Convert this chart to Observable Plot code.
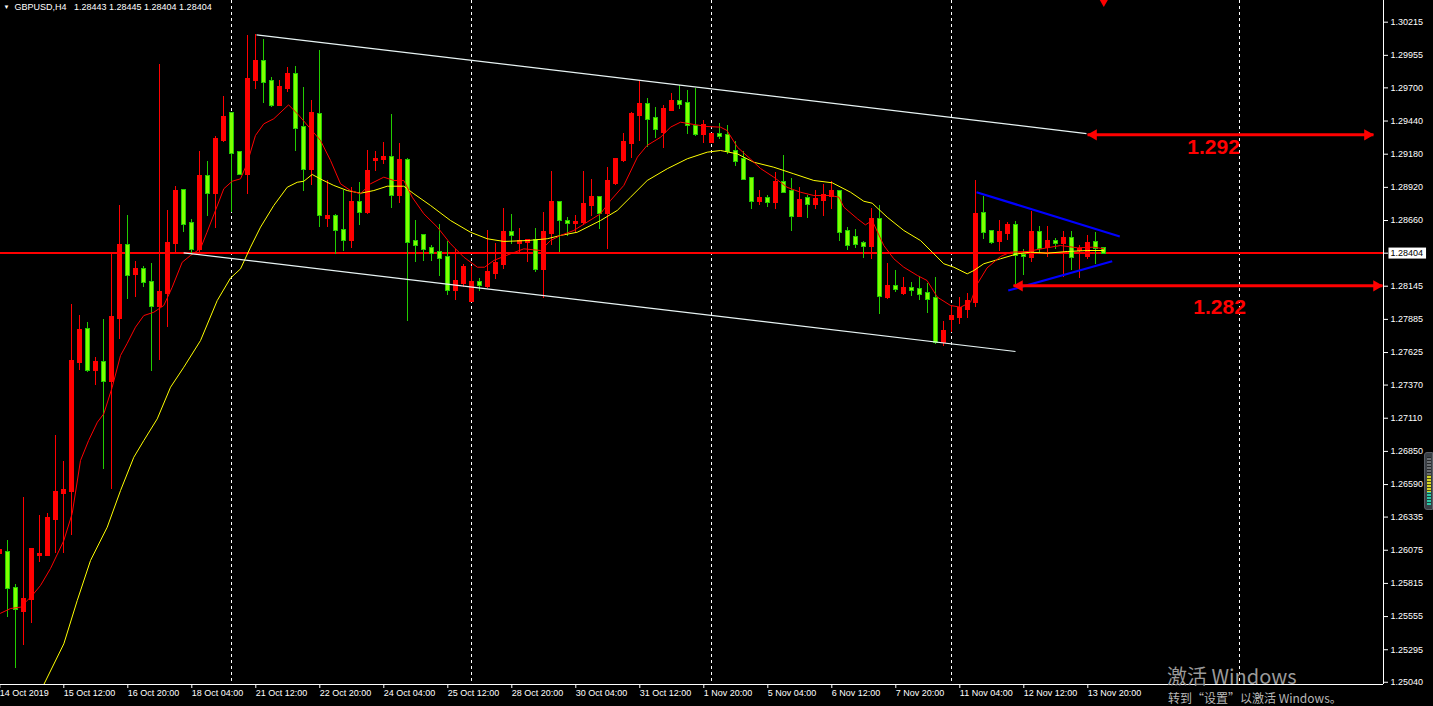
<!DOCTYPE html>
<html>
<head>
<meta charset="utf-8">
<script src="https://cdn.jsdelivr.net/npm/d3@7"></script>
<script src="https://cdn.jsdelivr.net/npm/@observablehq/plot@0.6"></script>
<style>
  html, body { margin:0; padding:0; background:#000; overflow:hidden; }
  #wrap { position:relative; width:1433px; height:706px; background:#000; }
  #wrap svg { display:block; }
  .wm1 { position:absolute; left:1167px; top:666px; font-size:20px; line-height:20px; font-family:"Noto Sans CJK SC","Noto Sans",sans-serif; color:#9a9a9a; white-space:nowrap; }
  .wm2 { position:absolute; left:1168px; top:692px; font-size:12px; line-height:12px; font-family:"Noto Sans CJK SC","Noto Sans",sans-serif; color:#b8b8b8; white-space:nowrap; }
  .gauge { position:absolute; left:1424px; top:452px; width:9px; height:58px; border-radius:3px 0 0 3px; background:#3a3f45; box-sizing:border-box; border:1px solid #5a5f66; }
  .gauge .in { position:absolute; left:2px; right:1px; top:4px; bottom:4px;
    background: repeating-linear-gradient(to bottom, rgba(0,0,0,0.65) 0 1px, transparent 1px 3px),
                linear-gradient(to bottom, #6a6e72 0 38%, #d6d628 38% 72%, #2cc7a6 72% 100%); }
</style>
</head>
<body>
<div id="wrap"></div>
<script>
// ---------- data ----------
const symbolTitle = "GBPUSD,H4\u00a0\u00a0 1.28443 1.28445 1.28404 1.28404";
const firstBar = -1;
const opens = [1.26050,1.26060,1.25773,1.25597,1.25687,1.26030,1.26036,1.26318,1.26522,1.26538,
1.27549,1.27803,1.27487,1.27545,1.27400,1.27894,1.28464,1.28239,1.28274,1.28172,
1.27988,1.28090,1.28480,1.28895,1.28637,1.28433,1.29005,1.28872,1.29287,1.29499,
1.29191,1.29023,1.29760,1.29907,1.29750,1.29562,1.29697,1.29805,1.29389,1.29062,
1.29489,1.28678,1.28692,1.28582,1.28506,1.28801,1.28725,1.29127,1.29136,1.29154,
1.28859,1.29131,1.28496,1.28543,1.28441,1.28409,1.28370,1.28114,1.28164,1.28028,
1.28172,1.28143,1.28245,1.28315,1.28566,1.28482,1.28488,1.28503,1.28276,1.28558,
1.28801,1.28652,1.28637,1.28645,1.28778,1.28841,1.28715,1.28950,1.29131,1.29264,
1.29483,1.29570,1.29460,1.29350,1.29523,1.29593,1.29577,1.29397,1.29334,1.29272,
1.29334,1.29327,1.29201,1.29138,1.28990,1.28809,1.28833,1.28801,1.28958,1.28888,
1.28692,1.28833,1.28786,1.28817,1.28848,1.28888,1.28574,1.28527,1.28480,1.28456,
1.28668,1.28057,1.28143,1.28088,1.28127,1.28119,1.28088,1.28049,1.27704,1.27884,
1.27900,1.27962,1.28017,1.28715,1.28574,1.28496,1.28558,1.28621,1.28386,1.28370,
1.28566,1.28449,1.28496,1.28480,1.28519,1.28425,1.28378,1.28488,1.28443];
const highs = [1.26089,1.26151,1.25806,1.26486,1.26079,1.26345,1.26361,1.26975,1.26771,1.28002,
1.27915,1.27861,1.27586,1.27884,1.28394,1.28778,1.28699,1.28336,1.28297,1.28323,
1.29883,1.28739,1.28927,1.28903,1.28668,1.29201,1.29123,1.29319,1.29632,1.29499,
1.29193,1.30111,1.30118,1.30079,1.29779,1.29758,1.29860,1.29868,1.29703,1.29601,
1.29993,1.28974,1.28707,1.28895,1.28919,1.28958,1.29211,1.29204,1.29272,1.29491,
1.29264,1.29146,1.28660,1.28543,1.28464,1.28629,1.28496,1.28433,1.28315,1.28300,
1.28206,1.28582,1.28480,1.28754,1.28707,1.28597,1.28503,1.28597,1.28723,1.29044,
1.28801,1.28684,1.28699,1.29044,1.28982,1.28841,1.29076,1.29146,1.29342,1.29507,
1.29750,1.29617,1.29546,1.29562,1.29656,1.29719,1.29679,1.29695,1.29444,1.29342,
1.29421,1.29405,1.29280,1.29201,1.28997,1.28895,1.28856,1.29037,1.29170,1.28990,
1.28919,1.28856,1.28895,1.28942,1.28966,1.28888,1.28605,1.28590,1.28496,1.28754,
1.28778,1.28323,1.28268,1.28213,1.28174,1.28221,1.28166,1.28213,1.27868,1.27986,
1.28057,1.28088,1.28974,1.28848,1.28582,1.28660,1.28645,1.28652,1.28433,1.28731,
1.28613,1.28613,1.28519,1.28574,1.28574,1.28464,1.28543,1.28566,1.28445];
const lows = [1.26026,1.25550,1.25150,1.25328,1.25498,1.25981,1.26036,1.26047,1.26052,1.26191,
1.27484,1.27471,1.27369,1.26710,1.26549,1.27730,1.28043,1.28059,1.28133,1.27479,
1.27563,1.27824,1.28409,1.28566,1.28394,1.28386,1.28694,1.28600,1.29274,1.28721,
1.29021,1.28866,1.29687,1.29577,1.29548,1.29556,1.29666,1.29204,1.28890,1.28937,
1.28608,1.28608,1.28396,1.28420,1.28443,1.28623,1.28710,1.29047,1.29102,1.28757,
1.28796,1.27871,1.28333,1.28341,1.28341,1.28224,1.28075,1.28035,1.28137,1.28025,
1.28100,1.28127,1.28198,1.28276,1.28472,1.28394,1.28331,1.28253,1.28049,1.28464,
1.28409,1.28535,1.28566,1.28621,1.28692,1.28590,1.28433,1.28935,1.29115,1.29146,
1.29280,1.29233,1.29303,1.29225,1.29515,1.29530,1.29334,1.29319,1.29264,1.29272,
1.29295,1.29178,1.29084,1.28982,1.28746,1.28778,1.28762,1.28746,1.28872,1.28574,
1.28692,1.28676,1.28746,1.28692,1.28746,1.28496,1.28425,1.28441,1.28362,1.28354,
1.27923,1.28041,1.28096,1.28072,1.28064,1.28033,1.27931,1.27688,1.27672,1.27782,
1.27845,1.27892,1.27978,1.28511,1.28472,1.28417,1.28503,1.28158,1.28229,1.28331,
1.28409,1.28370,1.28433,1.28213,1.28268,1.28206,1.28354,1.28315,1.28404];
const closes = [1.26073,1.25773,1.25608,1.25687,1.26079,1.26042,1.26324,1.26528,1.26543,1.27555,
1.27798,1.27487,1.27545,1.27400,1.27897,1.28464,1.28231,1.28276,1.28172,1.27988,
1.28096,1.28478,1.28888,1.28631,1.28433,1.29005,1.28874,1.29295,1.29468,1.29189,
1.29023,1.29766,1.29907,1.29746,1.29558,1.29703,1.29805,1.29384,1.29062,1.29499,
1.28702,1.28692,1.28584,1.28506,1.28801,1.28725,1.29044,1.29138,1.29154,1.28859,
1.29131,1.28490,1.28467,1.28435,1.28404,1.28365,1.28114,1.28182,1.28292,1.28174,
1.28147,1.28253,1.28323,1.28566,1.28545,1.28496,1.28501,1.28276,1.28566,1.28801,
1.28660,1.28637,1.28645,1.28786,1.28841,1.28715,1.28966,1.29138,1.29272,1.29491,
1.29570,1.29452,1.29374,1.29530,1.29593,1.29570,1.29405,1.29334,1.29405,1.29334,
1.29319,1.29201,1.29123,1.28982,1.28809,1.28833,1.28801,1.28958,1.28880,1.28692,
1.28817,1.28786,1.28825,1.28856,1.28888,1.28566,1.28464,1.28472,1.28456,1.28668,
1.28064,1.28143,1.28119,1.28127,1.28111,1.28080,1.28041,1.27704,1.27790,1.27908,
1.27970,1.28025,1.28707,1.28566,1.28488,1.28566,1.28621,1.28386,1.28378,1.28566,
1.28441,1.28496,1.28480,1.28519,1.28370,1.28433,1.28480,1.28441,1.28404];

// fast moving average (red): bar position, price
const fastBar = [-0.91,0.34,1.59,3.05,4.09,5.34,7.0,8.05,9.09,10.1,11.2,12.0,13.05,14.09,14.9,15.96,17.0,18.25,19.5,20.55,21.8,22.84,24.09,24.9,25.96,27.0,28.05,29.09,29.9,30.96,32.0,33.25,35.1,36.4,37.84,39.09,40.34,41.59,42.84,44.09,45.34,47.0,48.25,49.5,50.55,52.0,53.7,55.34,57.0,58.7,59.6,60.75,62.84,64.5,66.59,67.84,69.09,70.75,72.4,74.09,75.34,77.0,78.7,79.9,81.6,82.84,84.09,85.75,87.4,89.09,89.9,91.2,92.8,94.09,95.75,97.4,99.09,100.75,102.84,103.9,104.5,106.2,107.2,108.05,109.5,110.75,112.0,113.7,114.9,116.2,117.84,119.09,120.34,121.2,122.4,124.09,125.34,127.4,129.9,131.6,133.7,135.75,137.0];
const fastVal = [1.25581,1.25618,1.25629,1.25720,1.25799,1.25932,1.26151,1.26363,1.26779,1.26935,1.27079,1.27145,1.27353,1.27602,1.27694,1.27824,1.27915,1.27941,1.27994,1.28137,1.28333,1.28386,1.28441,1.28568,1.28739,1.28909,1.28968,1.28987,1.29105,1.29327,1.29418,1.29458,1.29567,1.29483,1.29379,1.29287,1.29131,1.28948,1.28895,1.28870,1.28948,1.29000,1.28974,1.28974,1.28843,1.28713,1.28608,1.28478,1.28373,1.28294,1.28294,1.28347,1.28399,1.28438,1.28425,1.28503,1.28543,1.28582,1.28647,1.28713,1.28817,1.28935,1.29157,1.29248,1.29313,1.29392,1.29431,1.29413,1.29397,1.29392,1.29366,1.29235,1.29144,1.29068,1.29000,1.28921,1.28882,1.28856,1.28856,1.28843,1.28765,1.28674,1.28626,1.28660,1.28464,1.28360,1.28294,1.28229,1.28190,1.28059,1.27994,1.27980,1.28020,1.28164,1.28288,1.28378,1.28412,1.28417,1.28446,1.28464,1.28446,1.28451,1.28438];
// slow moving average (yellow)
const slowBar = [3.46,4.5,7.0,8.68,10.34,12.43,14.09,15.75,17.0,18.68,20.34,22.0,24.09,26.18,27.84,29.09,30.34,31.59,33.25,34.93,36.18,37.0,38.05,39.3,40.75,42.43,44.09,45.75,47.43,49.5,50.75,52.84,55.34,57.84,59.93,62.0,64.93,67.43,69.09,71.18,74.09,76.18,77.84,79.93,82.43,84.93,87.43,89.09,91.18,93.25,95.75,98.25,100.75,103.05,105.34,107.0,108.05,109.93,112.0,114.09,115.55,117.0,118.25,119.93,120.75,122.0,124.09,126.18,127.84,129.93,132.43,134.93,137.0];
const slowVal = [1.24858,1.25022,1.25341,1.25681,1.25995,1.26256,1.26543,1.26804,1.26935,1.27105,1.27353,1.27510,1.27719,1.28033,1.28209,1.28281,1.28451,1.28608,1.28778,1.28921,1.28960,1.28968,1.29021,1.28979,1.28935,1.28895,1.28874,1.28895,1.28929,1.28929,1.28870,1.28778,1.28660,1.28568,1.28517,1.28496,1.28503,1.28517,1.28543,1.28568,1.28660,1.28739,1.28843,1.28974,1.29066,1.29144,1.29196,1.29209,1.29183,1.29117,1.29078,1.29026,1.28974,1.28956,1.28882,1.28811,1.28796,1.28686,1.28582,1.28503,1.28412,1.28321,1.28294,1.28242,1.28268,1.28321,1.28360,1.28399,1.28412,1.28404,1.28417,1.28425,1.28425];

// drawn objects (bar position, price)
const channelX1 = [31.09, 21.98], channelY1 = [1.30116, 1.28407];
const channelX2 = [134.84, 125.96], channelY2 = [1.29342, 1.27633];
const wedgeX1 = [121.09, 125.05], wedgeY1 = [1.28882, 1.28111];
const wedgeX2 = [139.0, 138.05], wedgeY2 = [1.28535, 1.28341];
const levelY = [1.29332, 1.28148];
const levelX1 = [134.97, 125.71], levelX2 = [170.71, 171.84];
const levelText = ["1.292", "1.282"];
const levelTextX = [150.72, 151.47], levelTextY = [1.29233, 1.27978];

const currentPrice = 1.28404;
const weekStartBars = [28, 58, 88, 118, 154];
const yTicks = [1.30215,1.29955,1.29700,1.29440,1.29180,1.28920,1.28660,1.28404,1.28145,1.27885,1.27625,1.27370,1.27110,1.26850,1.26590,1.26335,1.26075,1.25815,1.25555,1.25295,1.25040];
const xTickBars = [-1,7,15,23,31,39,47,55,63,71,79,87,95,103,111,119,127,135];
const xTickLabels = ["14 Oct 2019","15 Oct 12:00","16 Oct 20:00","18 Oct 04:00","21 Oct 12:00","22 Oct 20:00","24 Oct 04:00","25 Oct 12:00","28 Oct 20:00","30 Oct 04:00","31 Oct 12:00","1 Nov 20:00","5 Nov 04:00","6 Nov 12:00","7 Nov 20:00","11 Nov 04:00","12 Nov 12:00","13 Nov 20:00"];
const xDomain = [-0.9125, 171.9625];
const yDomain = [1.2502244, 1.30385];

// ---------- tables ----------
const candles = opens.map((o, k) => ({i: firstBar + k, o, h: highs[k], l: lows[k], c: closes[k]}));
const fast = fastBar.map((b, k) => ({b, v: fastVal[k]}));
const slow = slowBar.map((b, k) => ({b, v: slowVal[k]}));
const channel = channelX1.map((x1, k) => ({x1, y1: channelY1[k], x2: channelX2[k], y2: channelY2[k]}));
const wedge = wedgeX1.map((x1, k) => ({x1, y1: wedgeY1[k], x2: wedgeX2[k], y2: wedgeY2[k]}));
const levels = levelY.map((y, k) => ({y, x1: levelX1[k], x2: levelX2[k], label: levelText[k], tx: levelTextX[k], ty: levelTextY[k]}));
const tickLabel = new Map(xTickBars.map((b, k) => [b, xTickLabels[k]]));

const RED = "#ff0000", LIME = "#7fff00", GREEN = "#22cc00";
const bull = d => d.c > d.o;
const fmt5 = d3.format(".5f");
const FONT = "'Liberation Sans', Arial, sans-serif";

const chart = Plot.plot({
  width: 1433, height: 706,
  marginLeft: 0, marginRight: 50, marginTop: 0, marginBottom: 22,
  style: {background: "#000", color: "#fff", fontFamily: FONT, fontSize: "9px"},
  x: {domain: xDomain},
  y: {domain: yDomain},
  marks: [
    Plot.ruleX(weekStartBars, {stroke: "#fff", strokeDasharray: "3,3", shapeRendering: "crispEdges"}),
    Plot.ruleY([currentPrice], {stroke: RED, strokeWidth: 1.5, shapeRendering: "crispEdges"}),
    Plot.ruleX(candles, {x: "i", y1: "l", y2: "h", stroke: d => bull(d) ? RED : GREEN, shapeRendering: "crispEdges"}),
    Plot.rect(candles, {x1: d => d.i - 0.25, x2: d => d.i + 0.25, y1: "o", y2: "c",
      insetTop: -0.5, insetBottom: -0.5,
      fill: d => bull(d) ? RED : LIME, stroke: d => bull(d) ? RED : GREEN, shapeRendering: "crispEdges"}),
    Plot.line(slow, {x: "b", y: "v", stroke: "#ffff00", strokeWidth: 1, clip: true}),
    Plot.line(fast, {x: "b", y: "v", stroke: RED, strokeWidth: 1, clip: true}),
    Plot.link(channel, {x1: "x1", y1: "y1", x2: "x2", y2: "y2", stroke: "#e8f4f4", strokeWidth: 1.2}),
    Plot.link(wedge, {x1: "x1", y1: "y1", x2: "x2", y2: "y2", stroke: "#0000ff", strokeWidth: 2.2}),
    Plot.link(levels, {x1: "x1", x2: "x2", y1: "y", y2: "y", stroke: RED, strokeWidth: 3}),
    Plot.dot(levels, {x: "x1", y: "y", symbol: "triangle", rotate: -90, r: 4.2, fill: RED, dx: 6}),
    Plot.dot(levels, {x: "x2", y: "y", symbol: "triangle", rotate: 90, r: 4.2, fill: RED, dx: -6}),
    Plot.text(levels, {x: "tx", y: "ty", text: "label", fill: RED, fontSize: 21, fontWeight: "bold", fontFamily: FONT}),
    Plot.dot([xTickBars[xTickBars.length - 1] + 2], {x: d => d, frameAnchor: "top", symbol: "triangle", rotate: 180, r: 3.5, fill: RED, dy: 1}),
    Plot.text(["\u25BC"], {frameAnchor: "top-left", dx: 3, dy: 4, fontSize: 6, fill: "#fff", textAnchor: "start", lineAnchor: "top"}),
    Plot.text([symbolTitle], {frameAnchor: "top-left", dx: 14, dy: 3, fontSize: 9, fill: "#fff", textAnchor: "start", lineAnchor: "top"}),
    Plot.axisY({anchor: "right", ticks: yTicks, tickFormat: fmt5, tickSize: 4, tickPadding: 3, label: null, fill: "#fff", stroke: "#fff"}),
    Plot.axisX({anchor: "bottom", ticks: xTickBars, tickFormat: d => tickLabel.get(d), tickSize: 4, tickPadding: 1, textAnchor: "start", dx: 0, label: null, fill: "#fff", stroke: "#fff"}),
    Plot.ruleX([xDomain[1]], {stroke: "#fff", shapeRendering: "crispEdges"}),
    Plot.ruleY([yDomain[0]], {stroke: "#fff", shapeRendering: "crispEdges"})
  ]
});

const wrap = document.getElementById("wrap");
wrap.append(chart);

// current price box on the price scale
const svg = d3.select(chart);
svg.selectAll('g[aria-label="y-axis tick label"] text').each(function () {
  if (this.textContent === fmt5(currentPrice)) {
    const b = this.getBBox();
    const t = this.getAttribute("transform");
    d3.select(this.parentNode).insert("rect", () => this)
      .attr("transform", t)
      .attr("x", b.x - 2).attr("y", b.y - 0.5)
      .attr("width", b.width + 5).attr("height", b.height + 1)
      .attr("fill", "#fff");
    d3.select(this).attr("fill", "#000");
  }
});

// overlays (OS watermark and terminal gauge)
const w1 = document.createElement("div"); w1.className = "wm1"; w1.textContent = "激活 Windows"; wrap.append(w1);
const w2 = document.createElement("div"); w2.className = "wm2"; w2.textContent = "转到“设置”以激活 Windows。"; wrap.append(w2);
const g = document.createElement("div"); g.className = "gauge"; g.innerHTML = '<div class="in"></div>'; wrap.append(g);
</script>
</body>
</html>
